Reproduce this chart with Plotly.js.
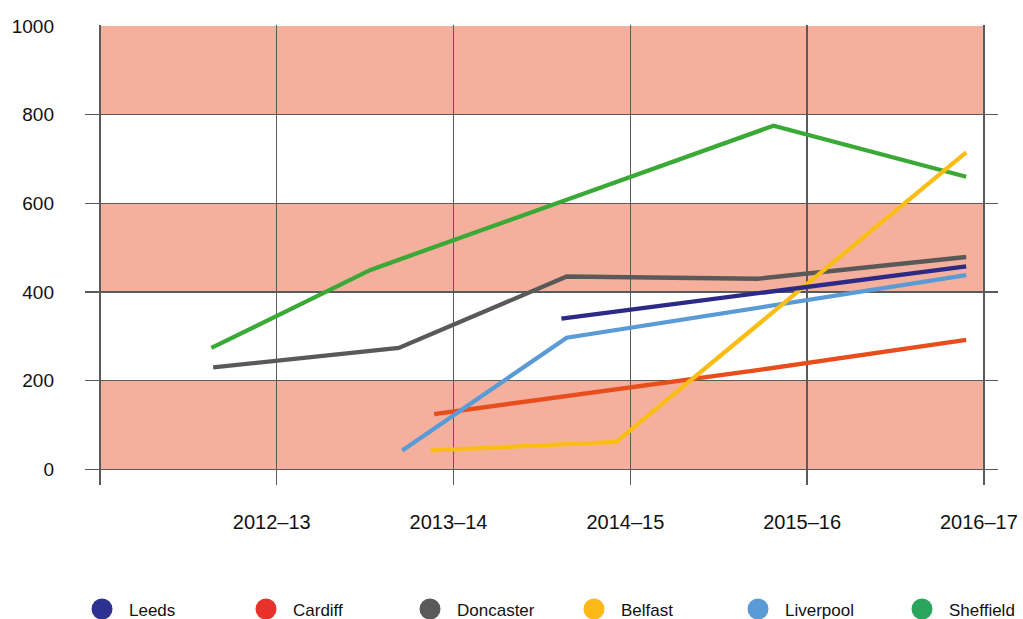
<!DOCTYPE html>
<html>
<head>
<meta charset="utf-8">
<script src="https://cdn.plot.ly/plotly-3.0.1.min.js"></script>
<style>html,body{margin:0;padding:0;background:#fff;}#chart{width:1023px;height:619px;}</style>
</head>
<body>
<div id="chart"></div>
<script>
// Tick labels (category positions 1..5)
const yearLabels = ['2012–13', '2013–14', '2014–15', '2015–16', '2016–17'];
const yearPositions = [1, 2, 3, 4, 5];
const yTicks = [0, 200, 400, 600, 800, 1000];
const bandRanges = [[0, 200], [400, 600], [800, 1000]];

// Series (x measured in year-position units, y values)
const leedsX = [2.61, 4.90];
const leedsY = [340, 458];
const cardiffX = [1.89, 2.64, 3.72, 4.90];
const cardiffY = [125, 165, 224, 292];
const doncasterX = [0.64, 1.69, 2.64, 3.72, 4.90];
const doncasterY = [230, 274, 435, 430, 479];
const belfastX = [1.87, 2.92, 4.90];
const belfastY = [43, 62, 715];
const liverpoolX = [1.71, 2.64, 4.90];
const liverpoolY = [43, 297, 438];
const sheffieldX = [0.63, 1.53, 2.64, 3.81, 4.90];
const sheffieldY = [274, 450, 608, 775, 660];

const seriesNames = ['Leeds', 'Cardiff', 'Doncaster', 'Belfast', 'Liverpool', 'Sheffield'];

const lineColors = {
  Leeds: '#2c2a86', Cardiff: '#e84e1b', Doncaster: '#595959',
  Belfast: '#f9bd16', Liverpool: '#5b9bd5', Sheffield: '#3aa935'
};
const legendColors = {
  Leeds: '#2e3192', Cardiff: '#e8312a', Doncaster: '#5a5a5a',
  Belfast: '#fbb917', Liverpool: '#5b9bd5', Sheffield: '#2aa55e'
};

const seriesData = {
  Leeds: [leedsX, leedsY], Cardiff: [cardiffX, cardiffY], Doncaster: [doncasterX, doncasterY],
  Belfast: [belfastX, belfastY], Liverpool: [liverpoolX, liverpoolY], Sheffield: [sheffieldX, sheffieldY]
};
const drawOrder = ['Sheffield', 'Doncaster', 'Cardiff', 'Liverpool', 'Belfast', 'Leeds'];

const traces = drawOrder.map(n => ({
  type: 'scatter', mode: 'lines', name: n,
  x: seriesData[n][0], y: seriesData[n][1],
  line: {color: lineColors[n], width: 4.3},
  showlegend: false, hoverinfo: 'skip'
}));

// Plot-area geometry (pixels) used for the hand-drawn legend row
const M = {l: 85, r: 25, t: 25, b: 134};
const plotW = 1023 - M.l - M.r;
const plotH = 619 - M.t - M.b;
const toPaperX = px => (px - M.l) / plotW;
const toPaperY = py => (619 - M.b - py) / plotH;
const legendStartPx = 102;
const legendStepPx = 164;
const legendRowPx = 609;

const font = "'Liberation Sans', Arial, Helvetica, sans-serif";
const textColor = '#111111';

const shapes = bandRanges.map(b => ({
  type: 'rect', xref: 'x', yref: 'y', layer: 'below',
  x0: 0, x1: 5, y0: b[0], y1: b[1],
  fillcolor: '#f4b09c', line: {width: 0}
}));
const annotations = [];
seriesNames.forEach((n, i) => {
  const cx = legendStartPx + i * legendStepPx;
  shapes.push({
    type: 'circle', xref: 'paper', yref: 'paper',
    xsizemode: 'pixel', ysizemode: 'pixel',
    xanchor: toPaperX(cx), yanchor: toPaperY(legendRowPx),
    x0: -10.5, x1: 10.5, y0: -10.5, y1: 10.5,
    fillcolor: legendColors[n], line: {width: 0}
  });
  annotations.push({
    xref: 'paper', yref: 'paper',
    x: toPaperX(cx + 25), y: toPaperY(legendRowPx + 1),
    xanchor: 'left', yanchor: 'middle', showarrow: false,
    text: n, font: {family: font, size: 17, color: textColor}
  });
});

const layout = {
  width: 1023, height: 619,
  margin: M,
  paper_bgcolor: '#ffffff', plot_bgcolor: 'rgba(0,0,0,0)',
  font: {family: font, color: textColor},
  showlegend: false,
  xaxis: {
    range: [-0.085, 5.08], fixedrange: true,
    tickmode: 'array', tickvals: [0].concat(yearPositions), ticktext: [''].concat(yearLabels),
    showgrid: true, gridcolor: '#5a5a5a', gridwidth: 1.3,
    zeroline: false, showline: false, ticks: '',
    ticklabelstandoff: 23, ticklabelshift: -5,
    tickfont: {family: font, size: 20, color: textColor}
  },
  yaxis: {
    range: [-35, 1002], fixedrange: true,
    tickmode: 'array', tickvals: yTicks,
    showgrid: true, gridcolor: '#5a5a5a', gridwidth: 1.3,
    zeroline: false, showline: false, ticks: '',
    ticklabelstandoff: 30,
    tickfont: {family: font, size: 19, color: textColor}
  },
  shapes: shapes,
  annotations: annotations
};

Plotly.newPlot('chart', traces, layout, {displayModeBar: false, staticPlot: true});
</script>
</body>
</html>
